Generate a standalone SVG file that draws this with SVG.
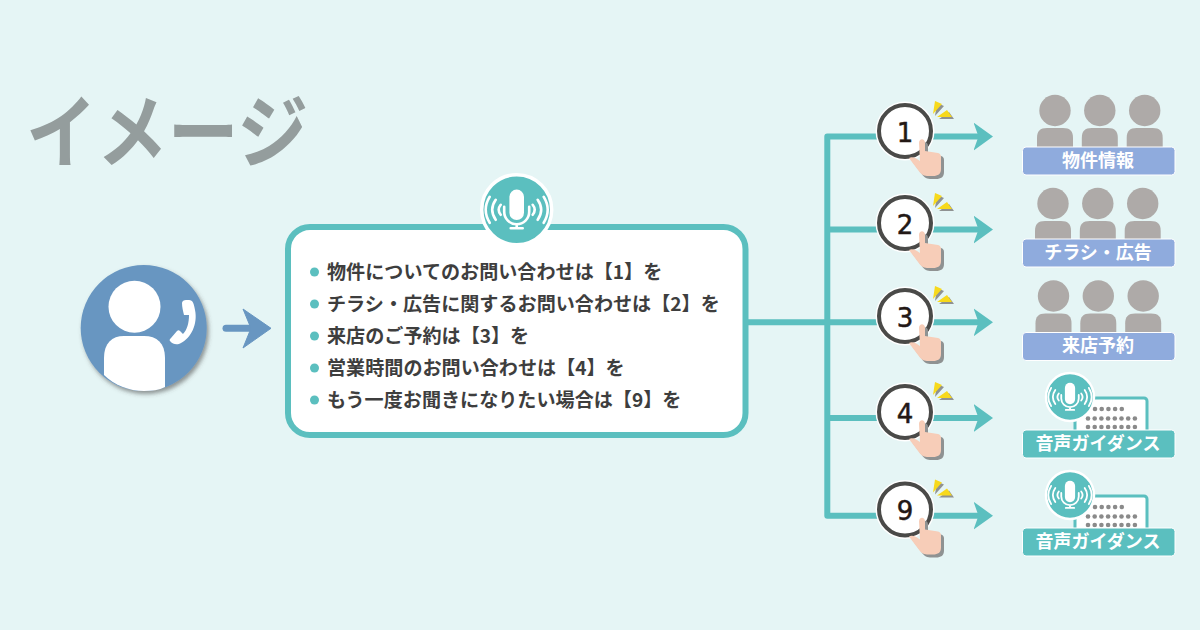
<svg xmlns="http://www.w3.org/2000/svg" xmlns:xlink="http://www.w3.org/1999/xlink" width="1200" height="630" viewBox="0 0 1200 630">
<style>
text{font-family:"Noto Sans CJK JP","Noto Sans",sans-serif;font-weight:700}
.li{font-size:19.100px;fill:#3e3e3e}
.num{font-size:26px;fill:#231815;text-anchor:middle;font-family:"DejaVu Sans",sans-serif;font-weight:400;stroke:#231815;stroke-width:.5}
.lb{font-size:18px;fill:#fff;text-anchor:middle}
.conn{fill:none;stroke:#5bbfbf;stroke-width:6;stroke-linejoin:round}
.dot{fill:#5bbfbf}
.p{fill:#aeaaa8}
.w{fill:none;stroke:#fff;stroke-width:2.600;stroke-linecap:round}
</style>
<defs>
<marker id="ah" viewBox="0 0 20 28" refX="11.500" refY="14" markerWidth="20" markerHeight="28" markerUnits="userSpaceOnUse" orient="auto"><path d="M0 0L19.500 14L0 28L5 14Z" fill="#5bbfbf"/></marker>
<filter id="sh" x="-20%" y="-20%" width="150%" height="150%"><feDropShadow dx="2" dy="3" stdDeviation="2" flood-color="#444" flood-opacity=".55"/></filter>
<g id="press">
<circle r="29.500" fill="#fff"/>
<circle r="26" fill="#fff" stroke="#4a4a48" stroke-width="4"/>
</g>
<g id="tap">
<g fill="#8f9292" transform="translate(2 2)"><path d="M30 -30L37 -27L28 -17ZM42 -21L47 -14H32Z"/></g>
<path d="M30 -30L37 -27L28 -17ZM42 -21L47 -14H32Z" fill="#f7d91c"/>
<path d="M14 12c0-5 6-5 6 0v8l13 2c2 .5 3 2 3 4v12c0 5-3 7-8 7h-6c-4 0-7-3-9-6l-9-12c3-2 7 0 11 3z" fill="#8f9292" transform="translate(3 3)"/>
<path d="M14 12c0-5 6-5 6 0v8l13 2c2 .5 3 2 3 4v12c0 5-3 7-8 7h-6c-4 0-7-3-9-6l-9-12c3-2 7 0 11 3z" fill="#f7cdb8"/>
</g>
<g id="person"><g class="p"><circle cy="-1.500" r="15.700"/><path d="M-18 35v-9c0-7 3-10 10-10h16c7 0 10 3 10 10v9z"/></g></g>
<g id="people">
<use xlink:href="#person" href="#person"/>
<use xlink:href="#person" href="#person" x="44.800"/>
<use xlink:href="#person" href="#person" x="89.700"/>
</g>
<g id="mic">
<path d="M-7.300 -13a7.300 7.300 0 0 1 14.600 0v16a7.300 7.300 0 0 1-14.600 0z" fill="#fff"/>
<path class="w" d="M-12.500 -3V2a12.500 12.500 0 0 0 25 0V-3M0 15v3.500M-6 18.500h12"/>
<path class="w" d="M-27 -13Q-35 0 -27 13M27 -13Q35 0 27 13M-21 -10Q-28 0 -21 10M21 -10Q28 0 21 10M-16 -5Q-20 0 -16 5M16 -5Q20 0 16 5"/>
</g>
<g id="speaker">
<path d="M5 34V4a3 3 0 0 1 3-3h66a3 3 0 0 1 3 3v30" fill="#fff" stroke="#5bbfbf" stroke-width="3"/>
<g fill="#8a8a8a"><circle cx="25" cy="12" r="2.300"/><circle cx="31.700" cy="12" r="2.300"/><circle cx="38.400" cy="12" r="2.300"/><circle cx="45.100" cy="12" r="2.300"/><circle cx="51.800" cy="12" r="2.300"/>
<circle cx="18" cy="21.500" r="2.300"/><circle cx="24.700" cy="21.500" r="2.300"/><circle cx="31.400" cy="21.500" r="2.300"/><circle cx="38.100" cy="21.500" r="2.300"/><circle cx="44.800" cy="21.500" r="2.300"/><circle cx="51.500" cy="21.500" r="2.300"/><circle cx="58.200" cy="21.500" r="2.300"/><circle cx="64.900" cy="21.500" r="2.300"/>
<circle cx="18" cy="30" r="2.300"/><circle cx="24.700" cy="30" r="2.300"/><circle cx="31.400" cy="30" r="2.300"/><circle cx="38.100" cy="30" r="2.300"/><circle cx="44.800" cy="30" r="2.300"/><circle cx="51.500" cy="30" r="2.300"/><circle cx="58.200" cy="30" r="2.300"/><circle cx="64.900" cy="30" r="2.300"/></g>
<circle r="24" fill="#5bbfbf" stroke="#fff" stroke-width="2.500"/>
<use xlink:href="#mic" href="#mic" transform="scale(.7)"/>
</g>
</defs>
<rect width="1200" height="630" fill="#e5f5f5"/>
<text id="title" x="26" y="161" font-size="80" fill="#949d9d" textLength="282" lengthAdjust="spacingAndGlyphs">イメージ</text>

<g id="connectors">
<path class="conn" d="M748 322.300H880M880 136.500H827.300V515.700H880M827.300 229.500H880M827.300 418H880"/>
<path class="conn" d="M930 136.500H985" marker-end="url(#ah)"/>
<path class="conn" d="M930 229.500H985" marker-end="url(#ah)"/>
<path class="conn" d="M930 322.300H985" marker-end="url(#ah)"/>
<path class="conn" d="M930 418H985" marker-end="url(#ah)"/>
<path class="conn" d="M930 515.700H985" marker-end="url(#ah)"/>
<path d="M226 328.300H258" fill="none" stroke="#6896c1" stroke-width="7" stroke-linecap="round"/>
<path d="M243 309L271 328.300L243 348L251 328.300Z" fill="#6896c1" stroke="#6896c1" stroke-linejoin="round"/>
</g>

<g id="caller">
<circle cx="143.700" cy="328" r="63" fill="#6896c1" filter="url(#sh)"/>
<circle cx="134.500" cy="306.700" r="26" fill="#fff"/>
<path d="M104 375V358c0-15 8-22 20-22h20c13 0 21 7 21 22v29c-6 3-13 4-21 4-15 0-30-6-40-16z" fill="#fff"/>
<path d="M182 303c0-2 2-3 4-3h3c4 0 5 4 6 10c3 14-4 28-14 33c-3 2-8 2-11-2c-1-1 0-2 1-3l6-7c1-1 2-1 3 0l3 3c4-4 6-11 6-19l-5 0c-1-4-2-8-2-12z" fill="#fff"/>
</g>

<g id="menu">
<rect x="288" y="227" width="457.500" height="208" rx="22" fill="#fff" stroke="#5bbfbf" stroke-width="6"/>
<circle cx="516.700" cy="209.800" r="35" fill="#5bbfbf" stroke="#fff" stroke-width="3.500"/>
<use xlink:href="#mic" href="#mic" transform="translate(516.700 209.800)"/>
<circle class="dot" cx="314.500" cy="272" r="4.500"/>
<circle class="dot" cx="314.500" cy="304" r="4.500"/>
<circle class="dot" cx="314.500" cy="336" r="4.500"/>
<circle class="dot" cx="314.500" cy="368" r="4.500"/>
<circle class="dot" cx="314.500" cy="400" r="4.500"/>
<text class="li" x="327" y="279">物件についてのお問い合わせは【1】を</text>
<text class="li" x="327" y="311">チラシ・広告に関するお問い合わせは【2】を</text>
<text class="li" x="327" y="343">来店のご予約は【3】を</text>
<text class="li" x="327" y="375">営業時間のお問い合わせは【4】を</text>
<text class="li" x="327" y="407">もう一度お聞きになりたい場合は【9】を</text>
</g>

<g id="key1" transform="translate(905 131)"><use xlink:href="#press" href="#press"/><text class="num" y="10.500">1</text><use xlink:href="#tap" href="#tap"/></g>
<g id="key2" transform="translate(905 223)"><use xlink:href="#press" href="#press"/><text class="num" y="10.500">2</text><use xlink:href="#tap" href="#tap"/></g>
<g id="key3" transform="translate(905 316)"><use xlink:href="#press" href="#press"/><text class="num" y="10.500">3</text><use xlink:href="#tap" href="#tap"/></g>
<g id="key4" transform="translate(905 412)"><use xlink:href="#press" href="#press"/><text class="num" y="10.500">4</text><use xlink:href="#tap" href="#tap"/></g>
<g id="key9" transform="translate(905 509.500)"><use xlink:href="#press" href="#press"/><text class="num" y="10.500">9</text><use xlink:href="#tap" href="#tap"/></g>

<g id="dest1"><use xlink:href="#people" href="#people" transform="translate(1055 112)"/><rect x="1022.500" y="147" width="152.500" height="28" rx="3.500" fill="#8fabdd" stroke="#fff"/><text class="lb" x="1098" y="167">物件情報</text></g>
<g id="dest2"><use xlink:href="#people" href="#people" transform="translate(1053 205)"/><rect x="1022.500" y="239" width="152.500" height="28" rx="3.500" fill="#8fabdd" stroke="#fff"/><text class="lb" x="1098" y="259">チラシ・広告</text></g>
<g id="dest3"><use xlink:href="#people" href="#people" transform="translate(1053.500 297.500)"/><rect x="1022.500" y="332.500" width="152.500" height="28" rx="3.500" fill="#8fabdd" stroke="#fff"/><text class="lb" x="1098" y="352">来店予約</text></g>
<g id="dest4"><use xlink:href="#speaker" href="#speaker" transform="translate(1070 397)"/><rect x="1022.500" y="430" width="152.500" height="28" rx="3.500" fill="#5bbfbf" stroke="#fff"/><text class="lb" x="1098" y="450">音声ガイダンス</text></g>
<g id="dest9"><use xlink:href="#speaker" href="#speaker" transform="translate(1070 495)"/><rect x="1022.500" y="528" width="152.500" height="28" rx="3.500" fill="#5bbfbf" stroke="#fff"/><text class="lb" x="1098" y="548">音声ガイダンス</text></g>
</svg>
